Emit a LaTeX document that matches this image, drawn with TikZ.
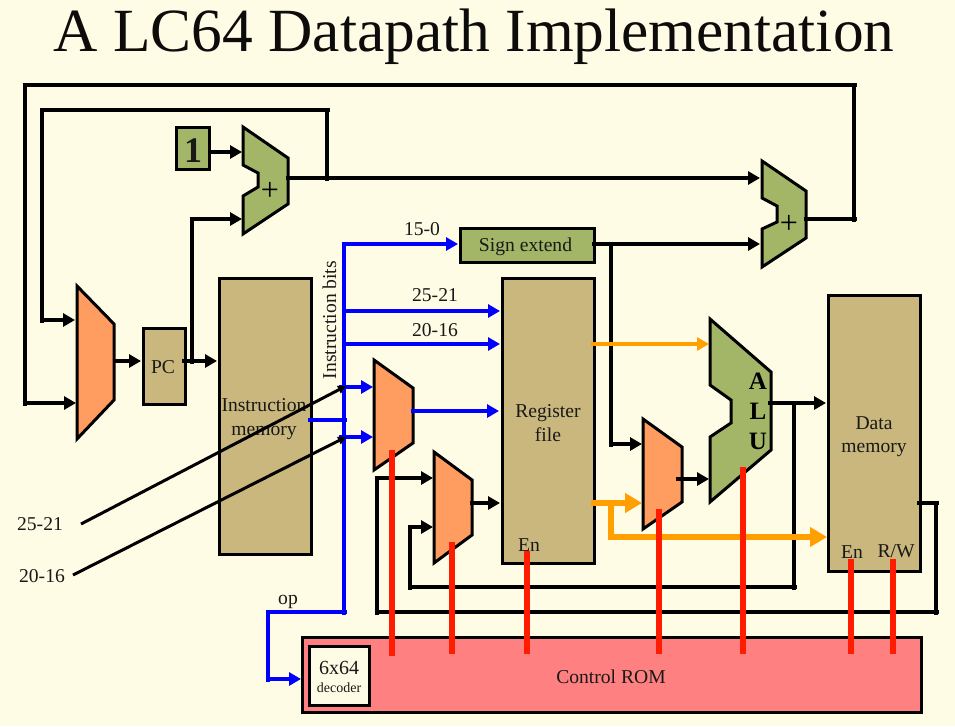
\documentclass[tikz,border=0pt]{standalone}
\usepackage{fontspec}
\setmainfont{Liberation Serif}
\usetikzlibrary{arrows.meta}
\definecolor{bgc}{HTML}{FFFCE6}
\definecolor{tanc}{HTML}{C9B77D}
\definecolor{greenc}{HTML}{A3B567}
\definecolor{orangec}{HTML}{FF9C60}
\definecolor{pinkc}{HTML}{FF8080}
\definecolor{bluew}{HTML}{0000FF}
\definecolor{orangew}{HTML}{FFA000}
\definecolor{redw}{HTML}{FF1C00}
\newcommand{\fs}[1]{\fontsize{#1}{#1}\selectfont}
\tikzset{
  boxbase/.style={draw=black,line width=3pt,rectangle,inner sep=0pt,outer sep=0pt,align=center,text=black!90!bgc},
  tanbox/.style={boxbase,fill=tanc},
  greenbox/.style={boxbase,fill=greenc},
  polyg/.style={draw=black,line width=3pt,fill=greenc,line join=miter},
  polyo/.style={draw=black,line width=3pt,fill=orangec,line join=miter},
  lbl/.style={inner sep=0pt,outer sep=0pt,text=black!90!bgc,font=\fs{19.6}},
  wire/.style={draw=black,line width=4pt,shorten <=-2.5pt,shorten >=-2.5pt},
  awire/.style={draw=black,line width=4pt,shorten <=-2.5pt,-{Triangle[length=12pt,width=13pt]}},
  bwire/.style={draw=bluew,line width=4pt,shorten <=-2.5pt,shorten >=-2.5pt},
  bawire/.style={draw=bluew,line width=4pt,shorten <=-2.5pt,-{Triangle[length=12pt,width=13pt]}},
  owire/.style={draw=orangew,line width=4pt,shorten <=-2pt,-{Triangle[length=12pt,width=13pt]}},
  owide/.style={draw=orangew,line width=6pt,shorten <=-2pt,-{Triangle[length=17pt,width=19pt]}},
  owideplain/.style={draw=orangew,line width=6pt,shorten <=-3pt,shorten >=-3pt},
  thinw/.style={draw=black,line width=3pt,-{Triangle[length=8pt,width=8pt]}},
  ctrl/.style={draw=redw,line width=6pt},
  twol/.style={lbl,align=center}
}
\begin{document}
\begin{tikzpicture}[x=1pt,y=-1pt]
\fill[bgc] (0,0) rectangle (955,726);
\useasboundingbox (0,0) rectangle (955,726);

\node[inner sep=0pt,text=black!95!bgc,font=\fs{61.4}] (title) at (474,37) {A LC64 Datapath Implementation};

% Wire junctions
\coordinate (topL) at (25,85);
\coordinate (topR) at (854,85);
\coordinate (leftB) at (25,403);
\coordinate (muxA) at (76,403);
\coordinate (secL) at (42,110);
\coordinate (secR) at (327,110);
\coordinate (secB) at (42,320);
\coordinate (muxB) at (75,320);
\coordinate (addOutJ) at (327,178);
\coordinate (add1Out) at (288,178);
\coordinate (add2A) at (760,178);
\coordinate (add2B) at (760,244);
\coordinate (add2Out) at (806,219);
\coordinate (add2OutR) at (854,219);
\coordinate (oneOut) at (210,152);
\coordinate (add1A) at (242,152);
\coordinate (pcUp) at (192,361);
\coordinate (pcTop) at (192,219);
\coordinate (add1B) at (242,219);
\coordinate (pcOut) at (184,361);
\coordinate (imIn) at (217,361);
\coordinate (muxOut) at (115,361);
\coordinate (pcIn) at (141,361);
\coordinate (busTop) at (344,244);
\coordinate (busBot) at (344,612);
\coordinate (sxIn) at (458,244);
\coordinate (b25) at (344,311);
\coordinate (b20) at (344,344);
\coordinate (rf25) at (500,311);
\coordinate (rf20) at (500,344);
\coordinate (imOut) at (310,420);
\coordinate (imOutJ) at (344,420);
\coordinate (m2aL) at (341,387);
\coordinate (m2bL) at (341,437);
\coordinate (m2a) at (373,387);
\coordinate (m2b) at (373,437);
\coordinate (m2Out) at (413,411);
\coordinate (rfMux) at (499,411);
\coordinate (opL) at (268,612);
\coordinate (opB) at (268,679);
\coordinate (decIn) at (301,679);
\coordinate (d1s) at (81,524);
\coordinate (d1e) at (346,386);
\coordinate (d2s) at (73,575);
\coordinate (d2e) at (346,437);
\coordinate (m3Out) at (472,503);
\coordinate (rfIn) at (500,503);
\coordinate (m3a) at (433,478);
\coordinate (m3b) at (433,527);
\coordinate (w1T) at (377,478);
\coordinate (w1B) at (377,612);
\coordinate (w2T) at (410,527);
\coordinate (w2B) at (410,587);
\coordinate (aluJ) at (794,403);
\coordinate (aluJB) at (794,587);
\coordinate (aluOut) at (770,403);
\coordinate (dmIn) at (826,403);
\coordinate (dmOut) at (919,503);
\coordinate (dmOutR) at (936,503);
\coordinate (dmOutB) at (936,612);
\coordinate (sxOut) at (594,244);
\coordinate (sxJ) at (611,244);
\coordinate (sxB) at (611,444);
\coordinate (m4a) at (642,444);
\coordinate (m4Out) at (678,479);
\coordinate (aluB) at (709,479);
\coordinate (rfOutA) at (593,344);
\coordinate (aluA) at (709,344);
\coordinate (rfOutB) at (593,503);
\coordinate (m4b) at (642,503);
\coordinate (oJ) at (611,503);
\coordinate (oB) at (611,537);
\coordinate (dmD) at (827,537);

% Function units
\node[greenbox,minimum width=33pt,minimum height=42pt] (one) at (193,148.5) {};
\node[lbl,font=\bfseries\fs{36}] (onetext) at (193,151) {1};
\draw[polyg] (243,127)--(288,158)--(288,204)--(243,234)--(243,196)--(258,187)--(258,173)--(243,165)--cycle;
\node[inner sep=0pt,font=\fs{32}] (plusA) at (270,191) {+};
\draw[polyg] (762,161)--(806,191)--(806,238)--(762,267)--(762,229)--(777,222)--(777,206)--(762,198)--cycle;
\node[inner sep=0pt,font=\fs{32}] (plusB) at (789,224) {+};
\draw[polyo] (77,286)--(114,324)--(114,400)--(77,439)--cycle;
\node[tanbox,minimum width=42pt,minimum height=76pt] (pc) at (164,366) {};
\node[lbl] (pctext) at (163,367) {PC};
\node[tanbox,minimum width=92pt,minimum height=276pt] (im) at (265,416) {};
\node[twol] (imtext) at (264,419) {Instruction\\[4pt]memory};
\node[greenbox,minimum width=134pt,minimum height=34pt] (sx) at (527,245) {};
\node[lbl] (sxtext) at (525.5,247) {Sign extend};
\draw[polyo] (374,360)--(413,388)--(413,443)--(374,470)--cycle;
\draw[polyo] (434,452)--(472,480)--(472,535)--(434,563)--cycle;
\node[tanbox,minimum width=92pt,minimum height=285pt] (rf) at (548,420.5) {};
\node[twol] (rftext) at (548,423) {Register\\[4pt]file};
\node[lbl] (rfen) at (529,545) {En};
\draw[polyo] (643,419)--(682,447)--(682,502)--(643,529)--cycle;
\draw[polyg] (710,319)--(771,372)--(771,450)--(710,502)--(710,437)--(731,423)--(731,400)--(710,385)--cycle;
\node[inner sep=0pt,font=\bfseries\fs{25}] (aluA1) at (758,381) {A};
\node[inner sep=0pt,font=\bfseries\fs{25}] (aluL) at (758,411) {L};
\node[inner sep=0pt,font=\bfseries\fs{25}] (aluU) at (758,441) {U};
\node[tanbox,minimum width=92pt,minimum height=276pt] (dm) at (874,433) {};
\node[twol] (dmtext) at (874,436.5) {Data\\[4pt]memory};
\node[lbl] (dmen) at (852,552) {En};
\node[lbl] (dmrw) at (896,551) {R/W};
\node[boxbase,fill=pinkc,minimum width=619pt,minimum height=75pt] (rom) at (612,675) {};
\node[lbl] (romtext) at (611,677) {Control ROM};
\node[boxbase,fill=bgc,minimum width=60pt,minimum height=59pt] (dec) at (339,675.5) {};
\node[lbl,font=\fs{20}] (dec1) at (339,668) {6x64};
\node[lbl,font=\fs{14}] (dec2) at (339,688) {decoder};

% Labels
\node[lbl] (l150) at (422,229) {15-0};
\node[lbl] (l2521) at (435,295) {25-21};
\node[lbl] (l2016) at (435,330) {20-16};
\node[lbl,rotate=90] (lib) at (329.5,320) {Instruction bits};
\node[lbl] (l2521b) at (40,524) {25-21};
\node[lbl] (l2016b) at (42,576) {20-16};
\node[lbl] (lop) at (288,602) {op};

% Black wires
\draw[wire] (topL)--(topR);
\draw[wire] (topL)--(leftB);
\draw[awire] (leftB)--(muxA);
\draw[wire] (secL)--(secR);
\draw[wire] (secL)--(secB);
\draw[awire] (secB)--(muxB);
\draw[wire] (secR)--(addOutJ);
\draw[awire] (add1Out)--(add2A);
\draw[wire] (add2Out)--(add2OutR);
\draw[wire] (add2OutR)--(topR);
\draw[awire] (oneOut)--(add1A);
\draw[wire] (pcUp)--(pcTop);
\draw[awire] (pcTop)--(add1B);
\draw[awire] (pcOut)--(imIn);
\draw[awire] (muxOut)--(pcIn);
\draw[awire] (m3Out)--(rfIn);
\draw[awire] (w1T)--(m3a);
\draw[wire] (w1T)--(w1B);
\draw[awire] (w2T)--(m3b);
\draw[wire] (w2T)--(w2B);
\draw[wire] (w2B)--(aluJB);
\draw[wire] (aluJB)--(aluJ);
\draw[awire] (aluOut)--(dmIn);
\draw[wire] (w1B)--(dmOutB);
\draw[wire] (dmOutB)--(dmOutR);
\draw[wire] (dmOutR)--(dmOut);
\draw[awire] (sxOut)--(add2B);
\draw[wire] (sxJ)--(sxB);
\draw[awire] (sxB)--(m4a);
\draw[awire] (m4Out)--(aluB);

% Blue wires
\draw[bwire] (busTop)--(busBot);
\draw[bawire] (busTop)--(sxIn);
\draw[bawire] (b25)--(rf25);
\draw[bawire] (b20)--(rf20);
\draw[bwire] (imOut)--(imOutJ);
\draw[bawire] (m2aL)--(m2a);
\draw[bawire] (m2bL)--(m2b);
\draw[bawire] (m2Out)--(rfMux);
\draw[bwire] (opL)--(busBot);
\draw[bwire] (opL)--(opB);
\draw[bawire] (opB)--(decIn);

% Diagonal select lines
\draw[thinw] (d1s)--(d1e);
\draw[thinw] (d2s)--(d2e);

% Orange wires
\draw[owire] (rfOutA)--(aluA);
\draw[owide] (rfOutB)--(m4b);
\draw[owideplain] (oJ)--(oB);
\draw[owide] (oB)--(dmD);

% Control lines
\coordinate (c1a) at (392,450); \coordinate (c1b) at (392,656);
\coordinate (c2a) at (452,542); \coordinate (c2b) at (452,654);
\coordinate (c3a) at (527,551); \coordinate (c3b) at (527,654);
\coordinate (c4a) at (659,509); \coordinate (c4b) at (659,654);
\coordinate (c5a) at (743,467); \coordinate (c5b) at (743,654);
\coordinate (c6a) at (851,559); \coordinate (c6b) at (851,654);
\coordinate (c7a) at (893,559); \coordinate (c7b) at (893,654);
\foreach \i in {1,...,7} \draw[ctrl] (c\i a)--(c\i b);
\end{tikzpicture}
\end{document}
